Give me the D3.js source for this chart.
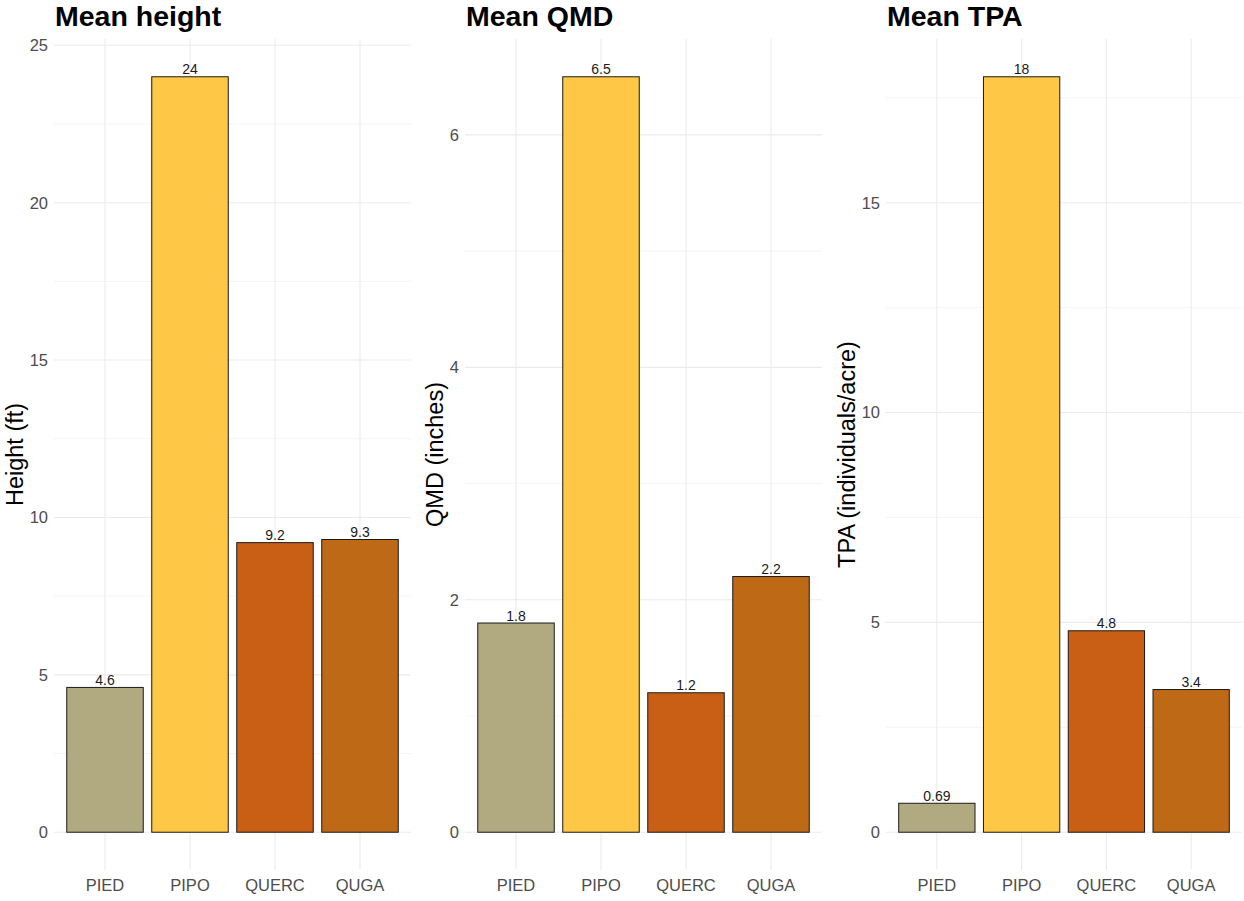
<!DOCTYPE html>
<html>
<head>
<meta charset="utf-8">
<script src="https://cdn.jsdelivr.net/npm/d3@7"></script>
<style>
  body { margin: 0; background: #fff; }
  svg { font-family: "Liberation Sans", Arial, sans-serif; }
</style>
</head>
<body>
<svg width="1244" height="901"></svg>
<script>
// species on the x axis
const species = ["PIED", "PIPO", "QUERC", "QUGA"];
const speciesColors = ["#b1aa81", "#fec746", "#c95e15", "#bd6916"];

// series values per panel
const heightValues = [4.6, 24, 9.2, 9.3];
const heightLabels = ["4.6", "24", "9.2", "9.3"];
const qmdValues = [1.8, 6.5, 1.2, 2.2];
const qmdLabels = ["1.8", "6.5", "1.2", "2.2"];
const tpaValues = [0.69, 18, 4.8, 3.4];
const tpaLabels = ["0.69", "18", "4.8", "3.4"];

// tick values
const heightTicks = [0, 5, 10, 15, 20, 25];
const qmdTicks = [0, 2, 4, 6];
const tpaTicks = [0, 5, 10, 15];

const panels = [
  { title: "Mean height", ytitle: "Height (ft)", values: heightValues, labels: heightLabels, ticks: heightTicks, left: 54, right: 411, ytx: 23 },
  { title: "Mean QMD", ytitle: "QMD (inches)", values: qmdValues, labels: qmdLabels, ticks: qmdTicks, left: 465, right: 822, ytx: 443 },
  { title: "Mean TPA", ytitle: "TPA (individuals/acre)", values: tpaValues, labels: tpaLabels, ticks: tpaTicks, left: 886, right: 1242, ytx: 855 }
];

const svg = d3.select("svg");
const plotTop = 39, plotBottom = 870;

panels.forEach((p) => {
  const g = svg.append("g");
  const max = d3.max(p.values);
  const y = d3.scaleLinear().domain([-0.05 * max, 1.05 * max]).range([plotBottom, plotTop]);
  const x = d3.scalePoint().domain(species).range([p.left, p.right]).padding(0.6);
  const step = x.step();

  // minor grid (midpoints between major ticks)
  const minor = [];
  const d = p.ticks[1] - p.ticks[0];
  for (let i = 0; i < p.ticks.length; i++) {
    const m = p.ticks[i] + d / 2;
    if (m < y.domain()[1]) minor.push(m);
  }
  g.selectAll(".minor").data(minor).enter().append("line")
    .attr("x1", p.left).attr("x2", p.right)
    .attr("y1", (v) => y(v)).attr("y2", (v) => y(v))
    .attr("stroke", "#f1f1f1").attr("stroke-width", 0.8);

  // major grid
  g.selectAll(".major").data(p.ticks).enter().append("line")
    .attr("x1", p.left).attr("x2", p.right)
    .attr("y1", (v) => y(v)).attr("y2", (v) => y(v))
    .attr("stroke", "#ebebeb").attr("stroke-width", 1.1);

  g.selectAll(".vgrid").data(species).enter().append("line")
    .attr("x1", (s) => x(s)).attr("x2", (s) => x(s))
    .attr("y1", plotTop).attr("y2", plotBottom)
    .attr("stroke", "#ebebeb").attr("stroke-width", 1.1);

  // bars
  g.selectAll(".bar").data(p.values).enter().append("rect")
    .attr("x", (v, i) => x(species[i]) - step * 0.45)
    .attr("width", step * 0.9)
    .attr("y", (v) => y(v))
    .attr("height", (v) => y(0) - y(v))
    .attr("fill", (v, i) => speciesColors[i])
    .attr("stroke", "#1a1a1a").attr("stroke-width", 1);

  // value labels
  g.selectAll(".vlab").data(p.values).enter().append("text")
    .attr("x", (v, i) => x(species[i]))
    .attr("y", (v) => y(v) - 2.5)
    .attr("text-anchor", "middle")
    .attr("font-size", 14).attr("fill", "#1a1a1a")
    .text((v, i) => p.labels[i]);

  // y tick labels
  g.selectAll(".ytick").data(p.ticks).enter().append("text")
    .attr("x", p.left - 6)
    .attr("y", (v) => y(v))
    .attr("dy", "0.36em")
    .attr("text-anchor", "end")
    .attr("font-size", 16.5).attr("fill", "#4d4d4d")
    .text((v) => v);

  // x tick labels
  g.selectAll(".xtick").data(species).enter().append("text")
    .attr("x", (s) => x(s))
    .attr("y", 891)
    .attr("text-anchor", "middle")
    .attr("font-size", 16.5).attr("fill", "#4d4d4d")
    .text((s) => s);

  // y axis title
  g.append("text")
    .attr("transform", `translate(${p.ytx},${(plotTop + plotBottom) / 2}) rotate(-90)`)
    .attr("text-anchor", "middle")
    .attr("font-size", 23.5).attr("fill", "#000")
    .text(p.ytitle);

  // panel title
  g.append("text")
    .attr("x", p.left + 1).attr("y", 26)
    .attr("font-size", 28.5).attr("font-weight", "bold").attr("fill", "#000")
    .text(p.title);
});
</script>
</body>
</html>
